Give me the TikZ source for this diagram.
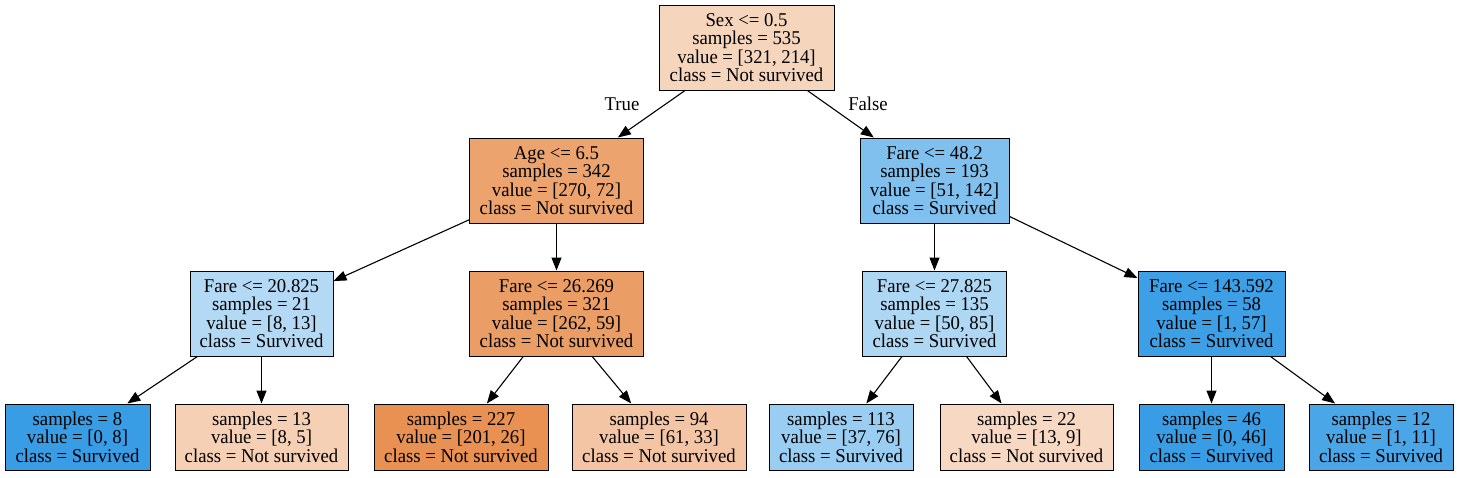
\documentclass[tikz,border=0pt]{standalone}
\usepackage{fontspec}
\setmainfont[FakeStretch=0.96]{Liberation Serif}
\usetikzlibrary{arrows.meta}
\definecolor{cRoot}{RGB}{246,213,189}
\definecolor{cAge}{RGB}{236,163,110}
\definecolor{cFa}{RGB}{128,192,238}
\definecolor{cFb}{RGB}{179,217,245}
\definecolor{cFc}{RGB}{235,157,102}
\definecolor{cFd}{RGB}{174,215,244}
\definecolor{cFe}{RGB}{61,159,229}
\definecolor{cLa}{RGB}{57,157,229}
\definecolor{cLb}{RGB}{245,208,181}
\definecolor{cLc}{RGB}{232,145,83}
\definecolor{cLd}{RGB}{243,197,164}
\definecolor{cLe}{RGB}{153,205,242}
\definecolor{cLf}{RGB}{247,216,194}
\definecolor{cLg}{RGB}{57,157,229}
\definecolor{cLh}{RGB}{75,166,231}
\tikzset{
  tnode/.style={draw=black, line width=1pt, rectangle, inner sep=0pt, align=center,
    minimum height=85pt, font=\fontsize{19.5}{18.4}\selectfont},
  lnode/.style={tnode, minimum height=66pt},
  edge/.style={line width=1.1pt, -{Triangle[length=13pt,width=10pt]}},
  elabel/.style={font=\fontsize{19.5}{18.4}\selectfont}
}
\begin{document}
\begin{tikzpicture}[x=1pt,y=-1pt]
\useasboundingbox (0,0) rectangle (1458,477);
\node[tnode, fill=cRoot, minimum width=175pt] (root) at (746.5,47.5) {Sex <= 0.5\\samples = 535\\value = [321, 214]\\class = Not survived};
\node[tnode, fill=cAge, minimum width=174pt] (age) at (556.5,180.5) {Age <= 6.5\\samples = 342\\value = [270, 72]\\class = Not survived};
\node[tnode, fill=cFa, minimum width=149pt] (fa) at (934.5,180.5) {Fare <= 48.2\\samples = 193\\value = [51, 142]\\class = Survived};
\node[tnode, fill=cFb, minimum width=143pt] (fb) at (261.5,313.5) {Fare <= 20.825\\samples = 21\\value = [8, 13]\\class = Survived};
\node[tnode, fill=cFc, minimum width=174pt] (fc) at (556.5,313.5) {Fare <= 26.269\\samples = 321\\value = [262, 59]\\class = Not survived};
\node[tnode, fill=cFd, minimum width=144pt] (fd) at (934.5,313.5) {Fare <= 27.825\\samples = 135\\value = [50, 85]\\class = Survived};
\node[tnode, fill=cFe, minimum width=147pt] (fe) at (1211.5,313.5) {Fare <= 143.592\\samples = 58\\value = [1, 57]\\class = Survived};
\node[lnode, fill=cLa, minimum width=145pt] (la) at (77.5,437) {samples = 8\\value = [0, 8]\\class = Survived};
\node[lnode, fill=cLb, minimum width=173pt] (lb) at (261.5,437) {samples = 13\\value = [8, 5]\\class = Not survived};
\node[lnode, fill=cLc, minimum width=174pt] (lc) at (461,437) {samples = 227\\value = [201, 26]\\class = Not survived};
\node[lnode, fill=cLd, minimum width=174pt] (ld) at (659,437) {samples = 94\\value = [61, 33]\\class = Not survived};
\node[lnode, fill=cLe, minimum width=144pt] (le) at (841,437) {samples = 113\\value = [37, 76]\\class = Survived};
\node[lnode, fill=cLf, minimum width=173pt] (lf) at (1026.5,437) {samples = 22\\value = [13, 9]\\class = Not survived};
\node[lnode, fill=cLg, minimum width=145pt] (lg) at (1211.5,437) {samples = 46\\value = [0, 46]\\class = Survived};
\node[lnode, fill=cLh, minimum width=144pt] (lh) at (1381,437) {samples = 12\\value = [1, 11]\\class = Survived};
\draw[edge] (root) -- (age);
\draw[edge] (root) -- (fa);
\draw[edge] (age) -- (fb);
\draw[edge] (age) -- (fc);
\draw[edge] (fa) -- (fd);
\draw[edge] (fa) -- (fe);
\draw[edge] (fb) -- (la);
\draw[edge] (fb) -- (lb);
\draw[edge] (fc) -- (lc);
\draw[edge] (fc) -- (ld);
\draw[edge] (fd) -- (le);
\draw[edge] (fd) -- (lf);
\draw[edge] (fe) -- (lg);
\draw[edge] (fe) -- (lh);
\node[elabel] (tl) at (622,104) {True};
\node[elabel] (fl) at (868,104) {False};
\end{tikzpicture}
\end{document}
